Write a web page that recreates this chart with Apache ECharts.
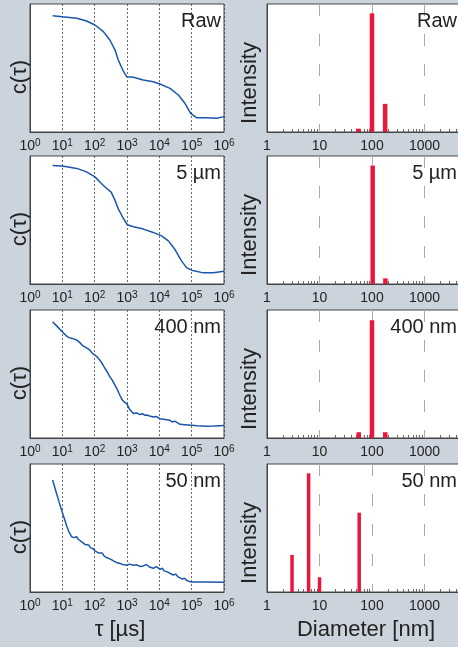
<!DOCTYPE html>
<html>
<head>
<meta charset="utf-8" />
<title>DLS filtering</title>
<script src="https://cdn.jsdelivr.net/npm/echarts@6/dist/echarts.min.js"></script>
<style>
  html, body { margin: 0; padding: 0; background: #cbd4dc; }
  #main { width: 458px; height: 647px; }
</style>
</head>
<body>
<div id="main"></div>
<script>
// sample labels, top to bottom
var panelNames = ['Raw', '5 \u00b5m', '400 nm', '50 nm'];

// correlation curves: tau [us] and c(tau) (0..1 of the plot height)
var tauRaw = [5, 10, 28, 56, 102, 186, 295, 427, 537, 741, 977, 1585, 3162, 6457, 10470, 21380, 38900, 61660, 93330, 141300, 288400, 588800, 1000000];
var cRaw = [0.909, 0.900, 0.888, 0.867, 0.836, 0.784, 0.719, 0.640, 0.563, 0.484, 0.432, 0.427, 0.406, 0.393, 0.375, 0.341, 0.289, 0.224, 0.146, 0.112, 0.112, 0.107, 0.120];

var tau5um = [5, 10, 28, 56, 102, 145, 209, 324, 427, 537, 741, 1023, 1585, 3236, 6457, 11750, 19050, 30200, 48980, 70790, 100000, 229100, 467700, 1000000];
var c5um = [0.926, 0.921, 0.903, 0.876, 0.837, 0.797, 0.758, 0.718, 0.653, 0.587, 0.521, 0.463, 0.447, 0.429, 0.403, 0.376, 0.337, 0.271, 0.179, 0.126, 0.108, 0.087, 0.087, 0.100];

var tau400 = [5, 7, 10, 13, 15.5, 20, 28, 35, 42, 50, 56, 70, 85, 102, 120, 145, 175, 209, 250, 295, 350, 400, 427, 500, 560, 603, 700, 800, 977, 1200, 1585, 1800, 2000, 2512, 3000, 3500, 4074, 5000, 6457, 8000, 10470, 12000, 15000, 21380, 25000, 30000, 43650, 50000, 60000, 100000, 150000, 288400, 500000, 1000000];
var c400 = [0.909, 0.870, 0.830, 0.800, 0.786, 0.778, 0.765, 0.745, 0.722, 0.712, 0.700, 0.688, 0.662, 0.648, 0.632, 0.608, 0.578, 0.543, 0.512, 0.478, 0.452, 0.425, 0.413, 0.380, 0.352, 0.334, 0.300, 0.283, 0.269, 0.225, 0.191, 0.188, 0.196, 0.183, 0.190, 0.178, 0.180, 0.172, 0.164, 0.168, 0.151, 0.160, 0.145, 0.138, 0.125, 0.132, 0.107, 0.116, 0.104, 0.099, 0.095, 0.091, 0.093, 0.097];

var tau50 = [5, 6.7, 8, 10, 12, 13.6, 16, 19.5, 23, 27.7, 31, 35.2, 42, 50, 56.6, 65, 75, 90, 102, 115, 130, 146, 170, 200, 235, 270, 320, 378, 430, 500, 608, 700, 800, 977, 1200, 1570, 2000, 2500, 3200, 4000, 5000, 6516, 8000, 10500, 12500, 14000, 16870, 20000, 27100, 32000, 38000, 43550, 52000, 60000, 70000, 85000, 100000, 288400, 1000000];
var c50 = [0.875, 0.765, 0.700, 0.621, 0.560, 0.517, 0.470, 0.431, 0.425, 0.432, 0.412, 0.399, 0.388, 0.372, 0.360, 0.368, 0.345, 0.338, 0.321, 0.335, 0.305, 0.295, 0.305, 0.278, 0.269, 0.282, 0.255, 0.243, 0.250, 0.228, 0.222, 0.232, 0.212, 0.209, 0.218, 0.209, 0.212, 0.200, 0.204, 0.215, 0.195, 0.185, 0.198, 0.178, 0.185, 0.165, 0.159, 0.150, 0.133, 0.140, 0.118, 0.112, 0.100, 0.108, 0.091, 0.082, 0.078, 0.078, 0.076];

// size distributions: diameter [nm] and intensity (0..1)
var dRaw = [55, 100, 178];
var iRaw = [0.026, 0.927, 0.22];
var d5um = [103, 180];
var i5um = [0.925, 0.044];
var d400 = [56, 100, 179];
var i400 = [0.045, 0.92, 0.045];
var d50 = [3.0, 6.2, 10, 57];
var i50 = [0.29, 0.927, 0.115, 0.62];

var tauSets = [[tauRaw, cRaw], [tau5um, c5um], [tau400, c400], [tau50, c50]];
var sizeSets = [[dRaw, iRaw], [d5um, i5um], [d400, i400], [d50, i50]];

var panelTops = [4, 156, 310, 464];
var textColor = '#222';
var font = 'Liberation Sans, Arial, sans-serif';

function zip(xs, ys) {
  return xs.map(function (x, k) { return [x, ys[k]]; });
}

// minor tick positions 2..9 of each decade for the diameter axis
var minorTicks = [];
[1, 10, 100, 1000].forEach(function (dec) {
  for (var k = 2; k <= 9; k++) minorTicks.push(dec * k);
});

var grids = [], xAxes = [], yAxes = [], series = [], texts = [];

panelTops.forEach(function (top, i) {
  var last = i === panelTops.length - 1;
  var gl = 2 * i, gr = 2 * i + 1;

  grids.push({ left: 30, top: top, width: 194, height: 128, show: true, outerBoundsMode: 'none',
    backgroundColor: '#fff', borderColor: '#444', borderWidth: 1 });
  grids.push({ left: 267, top: top, width: 210, height: 128, show: true, outerBoundsMode: 'none',
    backgroundColor: '#fff', borderColor: '#444', borderWidth: 1 });

  xAxes.push({
    type: 'log', logBase: 10, min: 1, max: 1e6, gridIndex: gl, position: 'bottom',
    axisLine: { lineStyle: { color: '#444' } },
    axisTick: { show: false },
    splitLine: { show: true, lineStyle: { color: '#444', type: [2, 2], width: 0.8 } },
    axisLabel: {
      interval: 0, margin: 6, color: textColor, fontFamily: font,
      formatter: function (v) {
        return '{b|10}{s|' + Math.round(Math.log10(v)) + '}';
      },
      rich: {
        b: { fontSize: 14, fontFamily: font, color: textColor },
        s: { fontSize: 10, fontFamily: font, color: textColor, verticalAlign: 'bottom', padding: [0, 0, 7, 0] }
      }
    },
    name: last ? '\u03c4 [\u00b5s]' : '', nameLocation: 'middle', nameGap: 27,
    nameTextStyle: { fontSize: 22, fontFamily: font, color: textColor, padding: [0, 14, 0, 0] }
  });
  xAxes.push({
    type: 'log', logBase: 10, min: 1, max: 1e4, gridIndex: gr, position: 'bottom',
    axisLine: { lineStyle: { color: '#444' } },
    axisTick: { show: false },
    splitLine: { show: true, lineStyle: { color: '#aaa', type: [12, 18], width: 1 } },
    axisLabel: {
      interval: 0, margin: 7, color: textColor, fontFamily: font, fontSize: 14,
      formatter: function (v) { return String(Math.round(v)); }
    },
    name: last ? 'Diameter [nm]' : '', nameLocation: 'middle', nameGap: 27,
    nameTextStyle: { fontSize: 22, fontFamily: font, color: textColor, padding: [0, 12, 0, 0] }
  });
  // second diameter axis that only carries the 2..9 minor ticks
  xAxes.push({
    type: 'log', logBase: 10, min: 1, max: 1e4, gridIndex: gr, position: 'bottom', offset: 0,
    axisLine: { show: false },
    axisTick: { show: true, inside: true, length: 3, customValues: minorTicks, lineStyle: { color: '#666' } },
    splitLine: { show: false },
    axisLabel: { show: false }
  });

  yAxes.push({
    type: 'value', min: 0, max: 1, gridIndex: gl,
    axisLine: { show: true, lineStyle: { color: '#444' } },
    axisTick: { show: false }, axisLabel: { show: false }, splitLine: { show: false },
    name: 'c(\u03c4)', nameLocation: 'middle', nameGap: -1,
    nameTextStyle: { fontSize: 22, fontFamily: font, color: textColor, padding: [0, 18, 0, 0] }
  });
  yAxes.push({
    type: 'value', min: 0, max: 1, gridIndex: gr,
    axisLine: { show: true, lineStyle: { color: '#444' } },
    axisTick: { show: false }, axisLabel: { show: false }, splitLine: { show: false },
    name: 'Intensity', nameLocation: 'middle', nameGap: 6,
    nameTextStyle: { fontSize: 22, fontFamily: font, color: textColor, padding: [0, 30, 0, 0] }
  });

  series.push({
    type: 'line', xAxisIndex: 3 * i, yAxisIndex: gl,
    showSymbol: false, silent: true,
    lineStyle: { color: '#1a56aa', width: 1.5 },
    data: zip(tauSets[i][0], tauSets[i][1])
  });
  series.push({
    type: 'bar', xAxisIndex: 3 * i + 1, yAxisIndex: gr,
    barWidth: i === 3 ? 3.5 : 4.5,
    itemStyle: { color: '#e8173b' },
    data: zip(sizeSets[i][0], sizeSets[i][1])
  });

  [221, 457].forEach(function (x) {
    texts.push({
      type: 'text', x: x, y: top + 7, z: 100,
      style: { text: panelNames[i], fill: textColor, fontSize: 20, fontFamily: font,
        align: 'right', textAlign: 'right', verticalAlign: 'top', textVerticalAlign: 'top' }
    });
  });
});

var myChart = echarts.init(document.getElementById('main'));
myChart.setOption({
  backgroundColor: '#cbd4dc',
  animation: false,
  grid: grids,
  xAxis: xAxes,
  yAxis: yAxes,
  series: series,
  graphic: texts
});
</script>
</body>
</html>
